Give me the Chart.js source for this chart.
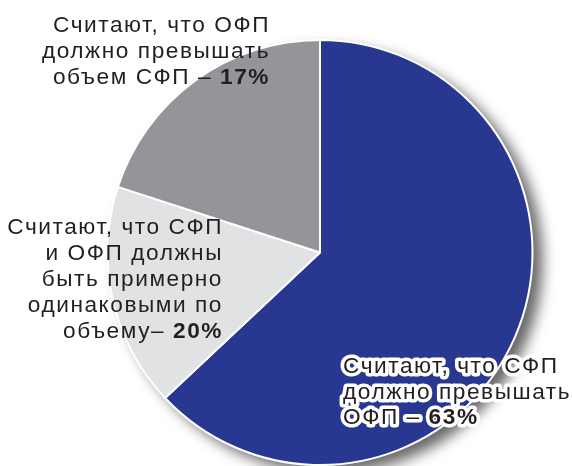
<!DOCTYPE html>
<html lang="ru">
<head>
<meta charset="utf-8">
<title>СФП и ОФП</title>
<script src="https://cdn.jsdelivr.net/npm/chart.js@4/dist/chart.umd.min.js"></script>
<style>
  html, body { margin: 0; padding: 0; background: #fff; }
  #wrap { width: 572px; height: 466px; position: relative; }
</style>
</head>
<body>
<div id="wrap"><canvas id="pie"></canvas></div>
<script>
/* ---------- данные ---------- */
const categories = ["СФП > ОФП", "СФП ≈ ОФП", "ОФП > СФП"];
const shares = [63, 17, 20];
const colors = ["#283891", "#e1e2e4", "#939598"];

// подписи: строки + жирный хвост с процентом
const labelLines = [
  ["Считают, что ОФП", "должно превышать", "объем СФП – "],
  ["Считают, что СФП", "и ОФП должны", "быть примерно", "одинаковыми по", "объему– "],
  ["Считают, что СФП", "должно превышать", "ОФП – "],
];
const labelPct = ["17%", "20%", "63%"];

const FONT = "'Liberation Sans', Arial, sans-serif";

/* ---------- тень под кругом ---------- */
const shadow = {
  id: "shadow",
  beforeDatasetsDraw(ch) {
    const a = ch.getDatasetMeta(0).data[0];
    if (!a) return;
    const g = ch.ctx;
    g.save();
    g.shadowColor = "rgba(0,0,0,0.6)";
    g.shadowBlur = 14;
    g.shadowOffsetX = 10;
    g.shadowOffsetY = 8;
    g.fillStyle = "#fff";
    g.beginPath(); g.arc(a.x, a.y, a.outerRadius, 0, Math.PI * 2); g.fill();
    g.restore();
  },
};

/* ---------- подписи ---------- */
function drawLabel(g, lines, pct, x, y0, step, align, halo) {
  const reg = "22px " + FONT, bold = "bold 22px " + FONT;
  g.textBaseline = "alphabetic";
  g.textAlign = "left";
  g.letterSpacing = "1.5px";
  lines.forEach((ln, i) => {
    const y = y0 + i * step;
    const last = i === lines.length - 1;
    g.font = reg; const w1 = g.measureText(ln).width;
    g.font = bold; const w2 = last ? g.measureText(pct).width : 0;
    let sx = align === "right" ? x - w1 - w2 : x;
    const parts = [[ln, reg, sx]];
    if (last) parts.push([pct, bold, sx + w1]);
    if (halo) {
      g.strokeStyle = "#fff"; g.lineWidth = 7; g.lineJoin = "round";
      parts.forEach(([t, f, px]) => { g.font = f; g.strokeText(t, px, y); });
    }
    g.fillStyle = "#231f20";
    parts.forEach(([t, f, px]) => { g.font = f; g.fillText(t, px, y); });
  });
}

const labels = {
  id: "labels",
  afterDraw(ch) {
    const g = ch.ctx;
    g.save();
    g.scale(1.03, 1);
    const k = 1 / 1.03;
    drawLabel(g, labelLines[0], labelPct[0], 270 * k, 32, 26, "right", false);
    drawLabel(g, labelLines[1], labelPct[1], 223 * k, 234, 26, "right", false);
    drawLabel(g, labelLines[2], labelPct[2], 343 * k, 373, 25.5, "left", true);
    g.restore();
  },
};

new Chart(document.getElementById("pie"), {
  type: "pie",
  data: {
    labels: categories,
    datasets: [{ data: shares, backgroundColor: colors, borderColor: "#fff", borderWidth: 2 }],
  },
  options: {
    responsive: true, maintainAspectRatio: false, animation: false,
    layout: { padding: { left: 106, right: 38, top: 39, bottom: 0 } },
    plugins: { legend: { display: false }, tooltip: { enabled: false } },
  },
  plugins: [shadow, labels],
});
</script>
</body>
</html>
